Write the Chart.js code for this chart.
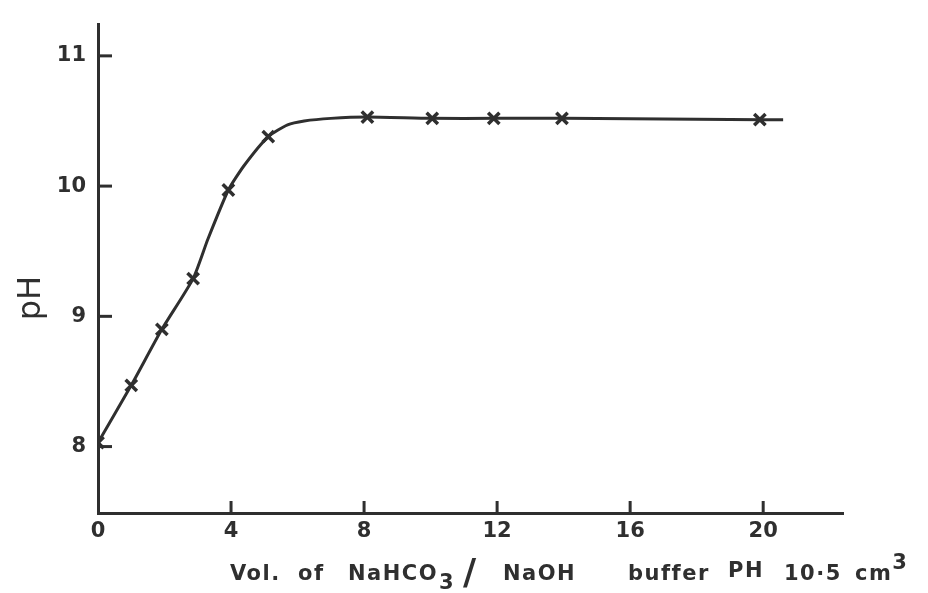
<!DOCTYPE html>
<html>
<head>
<meta charset="utf-8">
<script src="https://cdn.jsdelivr.net/npm/chart.js@4.4.1/dist/chart.umd.min.js"></script>
<style>
  html, body { margin: 0; padding: 0; background: #fff; }
</style>
</head>
<body>
<canvas id="phChart" width="928" height="593"></canvas>
<script>
// titration readings
var volumes = [0, 1, 1.92, 2.86, 3.92, 5.12, 8.1, 10.05, 11.9, 13.95, 19.9];
var phValues = [8.03, 8.47, 8.9, 9.29, 9.97, 10.38, 10.53, 10.52, 10.52, 10.52, 10.51];

// smooth curve drawn through the readings
var curveVol = [0, 1, 1.92, 2.86, 3.3, 3.92, 4.4, 5.12, 5.7, 6.2, 7, 8.1, 10, 12, 14, 20, 20.6];
var curvePh = [8.03, 8.47, 8.9, 9.29, 9.59, 9.97, 10.16, 10.38, 10.47, 10.5, 10.52, 10.53, 10.52, 10.52, 10.52, 10.51, 10.51];

var xTicks = [0, 4, 8, 12, 16, 20];
var yTicks = [8, 9, 10, 11];

var ink = "#2f2f2f";
var ctx = document.getElementById("phChart");

function toPoints(xs, ys) {
  var pts = [];
  for (var i = 0; i < xs.length; i++) pts.push({ x: xs[i], y: ys[i] });
  return pts;
}

// small tick marks pointing into the plot, like a hand-drawn graph
var innerTicks = {
  id: "innerTicks",
  afterDraw: function (chart) {
    var c = chart.ctx;
    var xs = chart.scales.x, ys = chart.scales.y;
    var area = chart.chartArea;
    c.save();
    c.strokeStyle = ink;
    c.lineWidth = 3;
    xTicks.forEach(function (v) {
      if (v === 0) return;
      var px = xs.getPixelForValue(v);
      c.beginPath();
      c.moveTo(px, area.bottom);
      c.lineTo(px, area.bottom - 12);
      c.stroke();
    });
    yTicks.forEach(function (v) {
      var py = ys.getPixelForValue(v);
      c.beginPath();
      c.moveTo(area.left, py);
      c.lineTo(area.left + 14, py);
      c.stroke();
    });
    c.restore();
  }
};

// axis captions, with the formula subscript and unit superscript
var axisTitles = {
  id: "axisTitles",
  afterDraw: function (chart) {
    var c = chart.ctx;
    c.save();
    c.fillStyle = ink;
    c.textBaseline = "alphabetic";

    // y caption
    c.save();
    c.translate(40, 298);
    c.rotate(-Math.PI / 2);
    c.textAlign = "center";
    c.font = "32px 'DejaVu Sans'";
    c.fillText("pH", 0, 0);
    c.restore();

    // x caption
    var base = 580;
    var bold = "bold 21px 'DejaVu Sans'";
    c.textAlign = "left";
    c.letterSpacing = "1.5px";
    c.font = bold;
    c.fillText("Vol.", 230, base);
    c.fillText("of", 298, base);
    c.fillText("NaHCO", 348, base);
    var w = c.measureText("NaHCO").width;
    c.fillText("3", 348 + w + 1, base + 9);
    c.letterSpacing = "0px";
    c.font = "bold 36px 'DejaVu Sans'";
    c.fillText("/", 463, base + 4);
    c.letterSpacing = "1.5px";
    c.font = bold;
    c.fillText("NaOH", 503, base);
    c.fillText("buffer", 628, base);
    c.fillText("PH", 728, base - 3);
    c.fillText("10\u00b75", 784, base);
    c.fillText("cm", 855, base);
    w = c.measureText("cm").width;
    c.fillText("3", 855 + w, base - 11);
    c.restore();
  }
};

var myChart = new Chart(ctx, {
  type: "line",
  data: {
    datasets: [
      {
        label: "curve",
        data: toPoints(curveVol, curvePh),
        borderColor: ink,
        borderWidth: 3,
        pointRadius: 0,
        tension: 0.2,
        fill: false,
      },
      {
        label: "readings",
        data: toPoints(volumes, phValues),
        showLine: false,
        pointStyle: "crossRot",
        pointRadius: 8,
        borderColor: ink,
        borderWidth: 3.5,
      },
    ],
  },
  options: {
    responsive: false,
    animation: false,
    layout: {
      padding: { left: 0, right: 85, top: 16, bottom: 0 },
    },
    plugins: {
      legend: { display: false },
      tooltip: { enabled: false },
    },
    scales: {
      x: {
        type: "linear",
        min: 0,
        max: 22.4,
        afterBuildTicks: function (s) {
          s.ticks = xTicks.map(function (v) { return { value: v }; });
        },
        afterFit: function (s) { s.height = 80; },
        grid: { display: false, drawTicks: false },
        border: { display: true, color: ink, width: 3 },
        ticks: {
          color: ink,
          padding: 6,
          maxRotation: 0,
          font: { family: "DejaVu Sans", size: 21, weight: "bold" },
        },
      },
      y: {
        type: "linear",
        min: 7.49,
        max: 11.24,
        afterBuildTicks: function (s) {
          s.ticks = yTicks.map(function (v) { return { value: v }; });
        },
        afterFit: function (s) { s.width = 98; },
        grid: { display: false, drawTicks: false },
        border: { display: true, color: ink, width: 3 },
        ticks: {
          color: ink,
          padding: 12,
          font: { family: "DejaVu Sans", size: 21, weight: "bold" },
        },
      },
    },
  },
  plugins: [innerTicks, axisTitles],
});
</script>
</body>
</html>
